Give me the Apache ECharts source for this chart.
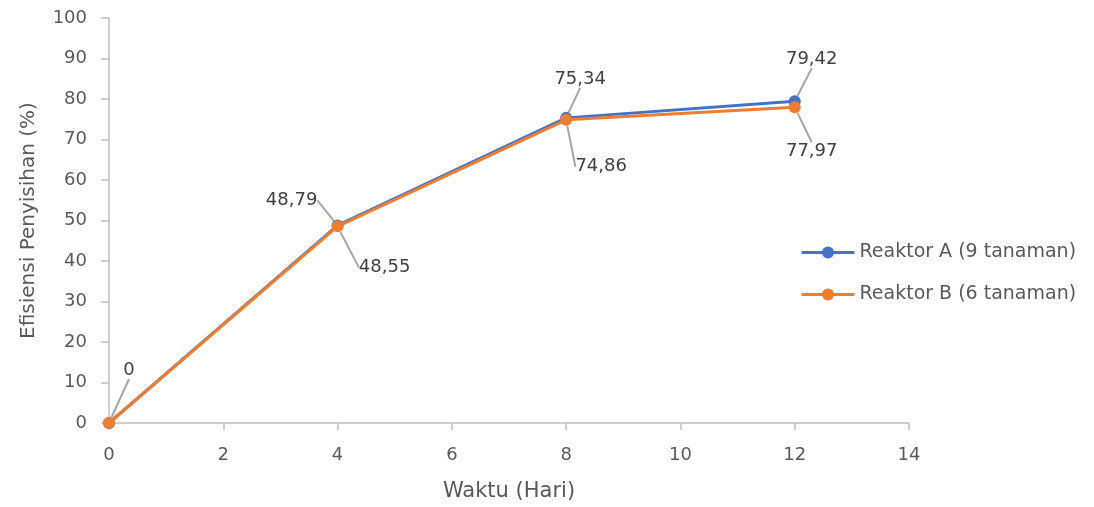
<!DOCTYPE html>
<html>
<head>
<meta charset="utf-8">
<script src="https://cdn.jsdelivr.net/npm/echarts@6/dist/echarts.min.js"></script>
<style>
html,body{margin:0;padding:0;background:#fff;}
#chart{width:1094px;height:507px;}
</style>
</head>
<body>
<div id="chart"></div>
<script>
// ---- data ----
var days = [0, 4, 8, 12];
var reaktorA = [0, 48.79, 75.34, 79.42];
var reaktorB = [0, 48.55, 74.86, 77.97];
var seriesNames = ['Reaktor A (9 tanaman)', 'Reaktor B (6 tanaman)'];
var xTitle = 'Waktu (Hari)';
var yTitle = 'Efisiensi Penyisihan (%)';

// ---- label layout offsets (styling) ----
var labelOffsets = [
  [[20, -55], [-46, -27], [14, -41], [17, -44]],
  [[0, 0], [47, 39], [35, 45], [17, 42]]
];
var PAD = [5, 7];

var FONT = 'DejaVu Sans';
function fmt(v) { return v === 0 ? '0' : v.toFixed(2).replace('.', ','); }

function buildData(vals, hideFirst) {
  return days.map(function (d, i) {
    var item = { value: [d, vals[i]] };
    if (hideFirst && i === 0) item.label = { show: false };
    return item;
  });
}

function makeSeries(name, vals, color, idx) {
  return {
    name: name,
    type: 'line',
    data: buildData(vals, idx === 1),
    symbol: 'circle',
    symbolSize: 12,
    lineStyle: { color: color, width: 3 },
    itemStyle: { color: color },
    z: idx === 1 ? 3 : 2,
    label: {
      show: true,
      formatter: function (p) { return fmt(p.value[1]); },
      fontFamily: FONT,
      fontSize: 18,
      color: '#404040',
      padding: PAD
    },
    labelLine: { show: true, lineStyle: { color: '#a6a6a6', width: 2 } },
    labelLayout: function (p) {
      var off = labelOffsets[idx][p.dataIndex];
      var cx = p.rect.x + p.rect.width / 2;
      var cy = p.rect.y + p.rect.height / 2;
      return {
        x: cx + off[0] - p.labelRect.width / 2 - PAD[1],
        y: cy + off[1] - p.labelRect.height / 2 - PAD[0] + 2,
        align: 'left',
        verticalAlign: 'top'
      };
    },
    emphasis: { disabled: true }
  };
}

var chart = echarts.init(document.getElementById('chart'), null, { renderer: 'canvas' });
chart.setOption({
  animation: false,
  backgroundColor: '#ffffff',
  grid: { left: 109, right: 185, top: 18, bottom: 81, containLabel: false },
  legend: {
    orient: 'vertical',
    left: 800,
    top: 243,
    padding: 0,
    itemWidth: 53,
    itemHeight: 15,
    itemGap: 23,
    lineStyle: { width: 3 },
    textStyle: { fontFamily: FONT, fontSize: 19, color: '#595959' },
    data: seriesNames
  },
  xAxis: {
    type: 'value',
    min: 0, max: 14, interval: 2,
    name: xTitle,
    nameLocation: 'middle',
    nameGap: 58,
    nameTextStyle: { fontFamily: FONT, fontSize: 21, color: '#595959' },
    axisLine: { show: true, onZero: false, lineStyle: { color: '#bfbfbf', width: 1.5 } },
    axisTick: { show: true, length: 7, lineStyle: { color: '#bfbfbf', width: 1.5 } },
    axisLabel: { fontFamily: FONT, fontSize: 18, color: '#595959', margin: 23 },
    splitLine: { show: false }
  },
  yAxis: {
    type: 'value',
    min: 0, max: 100, interval: 10,
    name: yTitle,
    nameLocation: 'middle',
    nameGap: 70,
    nameTextStyle: { fontFamily: FONT, fontSize: 20, color: '#595959' },
    axisLine: { show: true, lineStyle: { color: '#bfbfbf', width: 1.5 } },
    axisTick: { show: true, length: 8, lineStyle: { color: '#bfbfbf', width: 1.5 } },
    axisLabel: { fontFamily: FONT, fontSize: 18, color: '#595959', margin: 22 },
    splitLine: { show: false }
  },
  series: [
    makeSeries(seriesNames[0], reaktorA, '#4472C4', 0),
    makeSeries(seriesNames[1], reaktorB, '#ED7D31', 1)
  ]
});
</script>
</body>
</html>
